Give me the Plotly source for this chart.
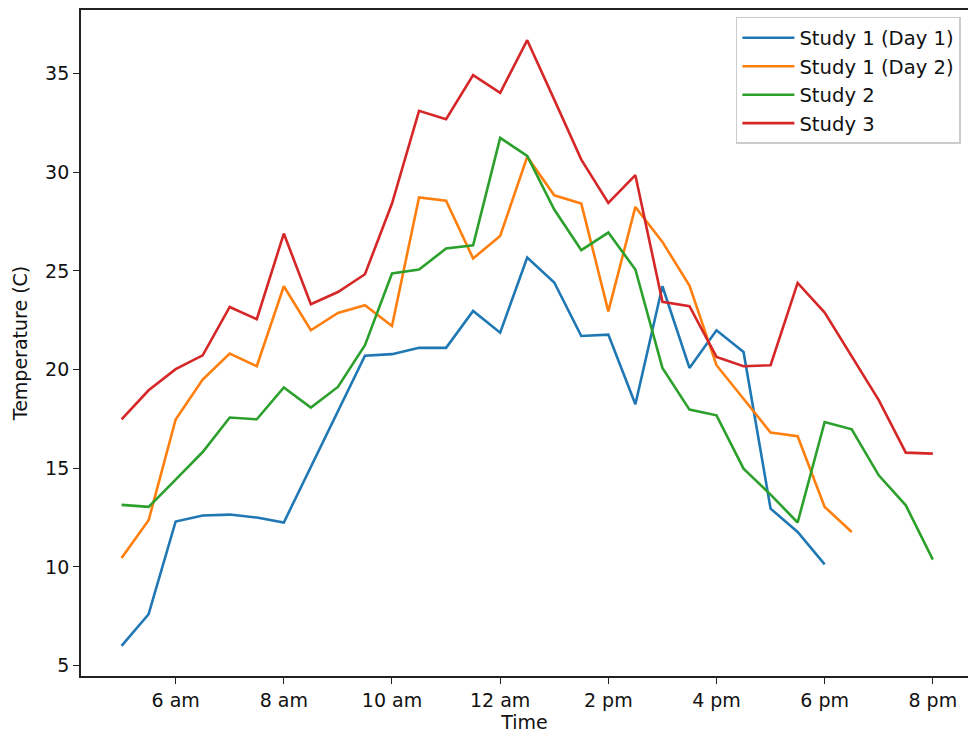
import plotly.graph_objects as go

# Time in hours (5 am .. 8 pm, half-hour steps)
hours = [5.0, 5.5, 6.0, 6.5, 7.0, 7.5, 8.0, 8.5, 9.0, 9.5, 10.0, 10.5, 11.0, 11.5,
         12.0, 12.5, 13.0, 13.5, 14.0, 14.5, 15.0, 15.5, 16.0, 16.5, 17.0, 17.5,
         18.0, 18.5, 19.0, 19.5, 20.0]

study1_day1 = [6.0, 7.6, 12.3, 12.6, 12.65, 12.5, 12.25, 15.07, 17.88, 20.7, 20.78,
               21.1, 21.1, 22.97, 21.87, 25.68, 24.41, 21.7, 21.77, 18.24, 24.22,
               20.08, 21.99, 20.89, 12.95, 11.77, 10.13]
study1_day2 = [10.45, 12.36, 17.47, 19.49, 20.81, 20.17, 24.22, 21.99, 22.87, 23.26,
               22.21, 28.72, 28.55, 25.63, 26.77, 30.78, 28.83, 28.41, 22.95, 28.24,
               26.47, 24.25, 20.22, 18.53, 16.81, 16.62, 13.04, 11.77]
study2 = [13.14, 13.04, 14.42, 15.82, 17.57, 17.48, 19.09, 18.07, 19.12, 21.23, 24.87,
          25.07, 26.13, 26.3, 31.74, 30.83, 28.11, 26.05, 26.94, 25.07, 20.08, 17.97,
          17.68, 14.98, 13.66, 12.25, 17.34, 16.97, 14.64, 13.12, 10.37]
study3 = [17.47, 18.95, 20.02, 20.72, 23.17, 22.55, 26.89, 23.31, 23.93, 24.83, 28.41,
          33.11, 32.69, 34.92, 34.02, 36.69, 33.68, 30.64, 28.44, 29.85, 23.43, 23.21,
          20.64, 20.17, 20.22, 24.39, 22.89, 20.67, 18.45, 15.79, 15.74]

series_names = ["Study 1 (Day 1)", "Study 1 (Day 2)", "Study 2", "Study 3"]
series_values = [study1_day1, study1_day2, study2, study3]
colors = ["#1f77b4", "#ff7f0e", "#2ca02c", "#d62728"]

tick_vals = [6, 8, 10, 12, 14, 16, 18, 20]
tick_text = ["6 am", "8 am", "10 am", "12 am", "2 pm", "4 pm", "6 pm", "8 pm"]
y_ticks = [5, 10, 15, 20, 25, 30, 35]

FONT = "DejaVu Sans"

fig = go.Figure()
for name, vals, col in zip(series_names, series_values, colors):
    fig.add_trace(go.Scatter(
        x=hours[:len(vals)], y=vals, mode="lines", name=name,
        line=dict(color=col, width=2.6),
    ))

fig.update_layout(
    width=968, height=738,
    margin=dict(l=81, r=0, t=10, b=62),
    paper_bgcolor="white", plot_bgcolor="white",
    font=dict(family=FONT, size=19, color="#111111"),
    showlegend=True,
    legend=dict(
        x=0.992, y=0.9895, xanchor="right", yanchor="top",
        bgcolor="rgba(255,255,255,0.85)", bordercolor="#cccccc", borderwidth=1.5,
        font=dict(family=FONT, size=19.6, color="#111111"),
        tracegroupgap=0, itemwidth=52,
    ),
    xaxis=dict(
        range=[4.25, 20.65], tickmode="array", tickvals=tick_vals, ticktext=tick_text,
        showgrid=False, zeroline=False, showline=True, linecolor="#222222", linewidth=1.8,
        mirror=True, ticks="outside", ticklen=6, tickwidth=1.3, tickcolor="#222222",
        tickfont=dict(family=FONT, size=19, color="#111111"),
        title=dict(text="Time", font=dict(family=FONT, size=19, color="#111111"), standoff=4),
    ),
    yaxis=dict(
        range=[4.47, 38.22], tickmode="array", tickvals=y_ticks,
        showgrid=False, zeroline=False, showline=True, linecolor="#222222", linewidth=1.8,
        mirror=False, ticks="outside", ticklen=6, tickwidth=1.3, tickcolor="#222222",
        tickfont=dict(family=FONT, size=19, color="#111111"),
        title=dict(text="Temperature (C)", font=dict(family=FONT, size=19, color="#111111"), standoff=12),
    ),
)

fig.write_html("out.html")
